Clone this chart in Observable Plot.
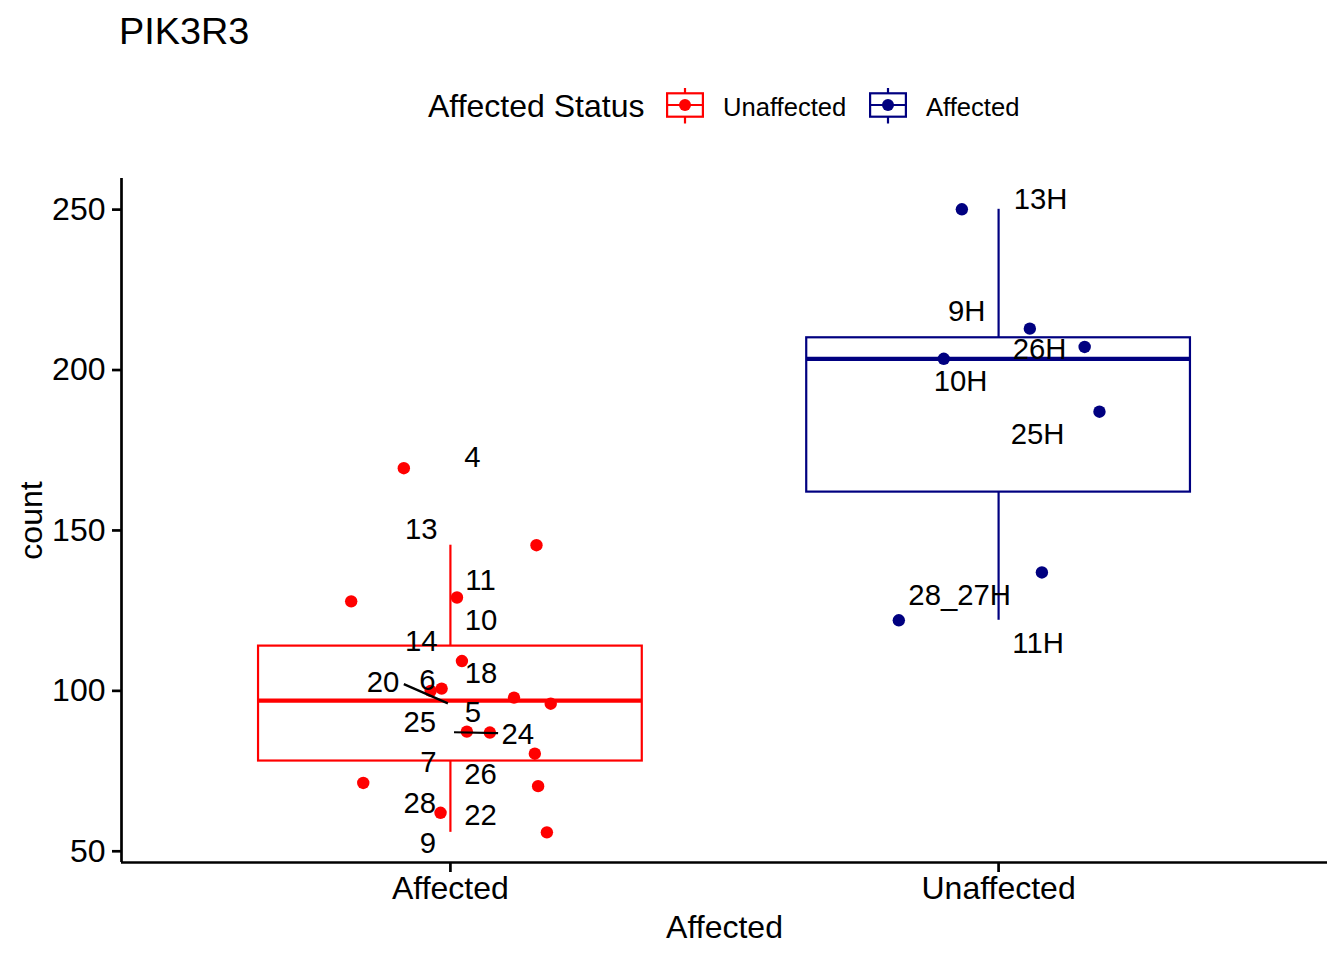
<!DOCTYPE html>
<html><head><meta charset="utf-8">
<script src="https://cdn.jsdelivr.net/npm/d3@7"></script>
<script src="https://cdn.jsdelivr.net/npm/@observablehq/plot@0.6"></script>
<style>
body{margin:0;background:#fff;}
#wrap{position:relative;width:1344px;height:960px;font-family:"Liberation Sans",Arial,Helvetica,sans-serif;color:#000;overflow:hidden;}
.t{position:absolute;line-height:1;white-space:nowrap;}
#chart{position:absolute;left:0;top:140px;}
</style></head><body><div id="wrap"><div id="chart"></div></div>
<script>
// ---- data ----
const chartTitle = "PIK3R3";
const categories = ["Affected", "Unaffected"];
const groupColors = ["#FF0000", "#000080"];
const legendTitle = "Affected Status";
const legendLabels = ["Unaffected", "Affected"];
const xLabel = "Affected";
const yLabel = "count";
const yTicks = [50, 100, 150, 200, 250];
const yDomain = [46.5, 259.7];

// Affected group (red)
const affectedIds    = ["4","13","11","10","14","18","6","5","20","24","25","7","26","28","22","9"];
const affectedCounts = [169.4,145.4,129.1,127.9,109.3,100.7,100.0,97.9,96.0,87.3,87.0,80.4,71.3,70.3,62.0,55.9];
const affectedJitter = [-0.085,0.157,0.012,-0.181,0.021,-0.016,-0.036,0.116,0.183,0.030,0.072,0.154,-0.159,0.160,-0.018,0.176];
const affectedLabelDx = [0.040,-0.053,0.055,0.056,-0.053,0.056,-0.042,0.041,-0.123,0.123,-0.056,-0.040,0.055,-0.056,0.055,-0.041];
const affectedLabelY  = [172.7,150.2,134.3,121.8,115.3,105.5,103.1,93.2,102.6,86.5,90.1,77.7,74.0,64.9,61.1,52.4];

// Unaffected group (navy)
const unaffectedIds    = ["13H","9H","26H","10H","25H","11H","28_27H"];
const unaffectedCounts = [250.1,212.9,207.2,203.5,187.0,136.9,122.0];
const unaffectedJitter = [-0.067,0.057,0.157,-0.100,0.184,0.079,-0.182];
const unaffectedLabelDx = [0.0766,-0.0583,0.0747,-0.0693,0.0711,0.072,-0.071];
const unaffectedLabelY  = [253.0,218.2,206.4,196.3,180.0,114.6,129.6];

// label connector segments (group index, from dx/count, to dx/count)
const segGroup   = [0, 0];
const segFromDx  = [-0.085, 0.0066];
const segFromY   = [102.1, 87.1];
const segToDx    = [-0.0046, 0.087];
const segToY     = [96.1, 86.8];

// ---- build tables ----
const groupsData = [
  {ids: affectedIds, counts: affectedCounts, jit: affectedJitter, ldx: affectedLabelDx, ly: affectedLabelY},
  {ids: unaffectedIds, counts: unaffectedCounts, jit: unaffectedJitter, ldx: unaffectedLabelDx, ly: unaffectedLabelY}
];
const rows = [];
groupsData.forEach((g, gi) => {
  g.ids.forEach((id, i) => rows.push({
    group: categories[gi], gx: gi + 1, x: gi + 1 + g.jit[i], count: g.counts[i],
    label: id, lx: gi + 1 + g.ldx[i], ly: g.ly[i]
  }));
});
const stats = groupsData.map((g, gi) => {
  const s = g.counts.slice().sort(d3.ascending);
  const q1 = d3.quantile(s, 0.25), med = d3.quantile(s, 0.5), q3 = d3.quantile(s, 0.75);
  const iqr = q3 - q1;
  const lo = d3.min(s.filter(v => v >= q1 - 1.5 * iqr));
  const hi = d3.max(s.filter(v => v <= q3 + 1.5 * iqr));
  return {group: categories[gi], gx: gi + 1, q1, med, q3, lo, hi};
});
const segs = segGroup.map((g, i) => ({
  x1: g + 1 + segFromDx[i], y1: segFromY[i], x2: g + 1 + segToDx[i], y2: segToY[i]
}));

const boxHalf = 0.35;
const font = "Liberation Sans, Arial, Helvetica, sans-serif";

const plot = Plot.plot({
  width: 1344, height: 820,
  marginTop: 38, marginBottom: 98, marginLeft: 121, marginRight: 17,
  style: {fontFamily: font, fontSize: "32px", color: "black", background: "white"},
  x: {domain: [0.4, 2.6]},
  y: {domain: yDomain},
  color: {domain: categories, range: groupColors},
  marks: [
    Plot.ruleX(stats, {x: "gx", y1: "q3", y2: "hi", stroke: "group", strokeWidth: 2.2}),
    Plot.ruleX(stats, {x: "gx", y1: "lo", y2: "q1", stroke: "group", strokeWidth: 2.2}),
    Plot.rect(stats, {x1: d => d.gx - boxHalf, x2: d => d.gx + boxHalf, y1: "q1", y2: "q3", stroke: "group", fill: "none", strokeWidth: 2.2}),
    Plot.ruleY(stats, {x1: d => d.gx - boxHalf, x2: d => d.gx + boxHalf, y: "med", stroke: "group", strokeWidth: 4.3}),
    Plot.dot(rows, {x: "x", y: "count", r: 6.2, fill: "group", stroke: null}),
    Plot.link(segs, {x1: "x1", y1: "y1", x2: "x2", y2: "y2", stroke: "black", strokeWidth: 2.2}),
    Plot.text(rows, {x: "lx", y: "ly", text: "label", fontSize: 29.3, fill: "black"}),
    Plot.ruleX([0.4], {strokeWidth: 2.7}),
    Plot.ruleY([yDomain[0]], {strokeWidth: 2.7}),
    Plot.axisY({ticks: yTicks, tickSize: 9, tickPadding: 7, fontSize: 32, strokeWidth: 2.7, label: null, anchor: "left"}),
    Plot.axisX({ticks: [1, 2], tickFormat: d => categories[d - 1], tickSize: 10, tickPadding: 4, fontSize: 32, strokeWidth: 2.7, label: null, anchor: "bottom"}),
    Plot.text([xLabel], {frameAnchor: "bottom", text: d => d, dy: 75, lineAnchor: "bottom", textAnchor: "middle", fontSize: 32}),
    Plot.text([yLabel], {frameAnchor: "left", text: d => d, dx: -80, rotate: -90, lineAnchor: "bottom", textAnchor: "middle", fontSize: 32})
  ]
});
document.getElementById("chart").appendChild(plot);

// ---- header: title and legend ----
const wrap = d3.select("#wrap");
wrap.append("div").attr("class", "t").style("left", "119px").style("top", "13px").style("font-size", "37.8px").text(chartTitle);
wrap.append("div").attr("class", "t").style("left", "428px").style("top", "90px").style("font-size", "32px").text(legendTitle);
const keyLefts = [666, 869];
const labelLefts = [723, 926];
legendLabels.forEach((lab, i) => {
  const c = groupColors[i];
  const svg = wrap.append("svg").attr("width", 38).attr("height", 38)
    .style("position", "absolute").style("left", keyLefts[i] + "px").style("top", "87px");
  svg.append("line").attr("x1", 19).attr("x2", 19).attr("y1", 1).attr("y2", 36.5).attr("stroke", c).attr("stroke-width", 2.2);
  svg.append("rect").attr("x", 1.1).attr("y", 6.3).attr("width", 35.8).attr("height", 23.4).attr("fill", "white").attr("stroke", c).attr("stroke-width", 2.2);
  svg.append("line").attr("x1", 1).attr("x2", 37).attr("y1", 18).attr("y2", 18).attr("stroke", c).attr("stroke-width", 2.2);
  svg.append("circle").attr("cx", 19).attr("cy", 18).attr("r", 6).attr("fill", c);
  wrap.append("div").attr("class", "t").style("left", labelLefts[i] + "px").style("top", "95.3px").style("font-size", "25.6px").text(lab);
});
</script>
</body></html>
